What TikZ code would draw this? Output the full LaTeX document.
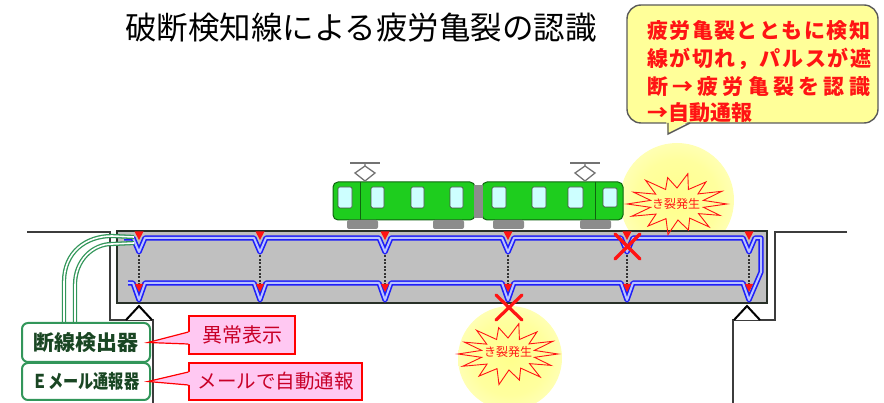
\documentclass[tikz,border=0pt]{standalone}
\usepackage{fontspec}
\setmainfont{Noto Sans CJK JP}
\usetikzlibrary{calc}

\definecolor{wireblue}{RGB}{30,30,250}
\definecolor{wirelight}{RGB}{185,195,255}
\definecolor{girdergray}{RGB}{192,192,192}
\definecolor{girderedge}{RGB}{40,48,40}
\definecolor{groundgray}{RGB}{60,60,60}
\definecolor{cablegreen}{RGB}{50,150,90}
\definecolor{boxtext}{RGB}{25,70,35}
\definecolor{trainbody}{RGB}{30,205,30}
\definecolor{trainedge}{RGB}{15,100,15}
\definecolor{winfill}{RGB}{205,255,255}
\definecolor{bogie}{RGB}{140,140,140}
\definecolor{bubblefill}{RGB}{255,255,153}
\definecolor{bubbleedge}{RGB}{90,90,90}
\definecolor{alertred}{RGB}{255,20,20}
\definecolor{pinkfill}{RGB}{255,200,242}
\definecolor{pinktext}{RGB}{200,0,40}

\pgfdeclareradialshading{glow}{\pgfpoint{0bp}{0bp}}{rgb(0bp)=(1,1,0.55); rgb(18bp)=(1,1,0.62); rgb(50bp)=(1,1,1)}

\tikzset{
  groundline/.style={draw=groundgray, line width=1.8pt},
  bearing/.style={draw=black, fill=white, line width=2pt, line join=miter},
  wire/.style={draw=wireblue, line width=1.6pt, double=wirelight, double distance=2pt, line join=round},
  stiffener/.style={draw=black!80, line width=1.2pt, dash pattern=on 2pt off 1.5pt},
  marker/.style={fill=alertred},
  crackx/.style={draw=alertred, line width=3.2pt, line cap=round},
  burstline/.style={draw=alertred, line width=0.9pt, line join=miter},
  bursttext/.style={text=alertred, font=\fontsize{12}{12}\selectfont},
  cable/.style={draw=cablegreen, line width=1.3pt, double=white, double distance=1.6pt},
  unitbox/.style={draw=cablegreen, fill=white, line width=2pt, rounded corners=6pt, text=boxtext, font=\bfseries\fontsize{21}{21}\selectfont},
  pinkbox/.style={draw=red, fill=pinkfill, line width=1.2pt, text=pinktext},
  body/.style={fill=trainbody, draw=trainedge, line width=1pt, rounded corners=5pt},
  window/.style={fill=winfill, draw=black!70, line width=0.7pt, rounded corners=1.5pt},
  panto/.style={draw=black!55, line width=1.3pt},
  bubbletext/.style={text=alertred, font=\bfseries\fontsize{21}{21}\selectfont, anchor=base west, inner sep=0pt},
  burst/.pic={
    \draw[burstline] (0:50 and 29) -- (12:27 and 16) -- (24:47 and 28) -- (37:27 and 16)
      -- (50:50 and 30) -- (62:27 and 16) -- (75:44 and 27) -- (88:27 and 16)
      -- (100:52 and 31) -- (114:27 and 16) -- (128:47 and 28) -- (141:27 and 16)
      -- (155:50 and 29) -- (168:27 and 16) -- (180:50 and 29) -- (193:27 and 16)
      -- (205:48 and 28) -- (218:27 and 16) -- (232:51 and 30) -- (245:27 and 16)
      -- (258:45 and 27) -- (270:27 and 16) -- (282:52 and 31) -- (295:27 and 16)
      -- (308:47 and 28) -- (321:27 and 16) -- (334:50 and 29) -- (347:27 and 16) -- cycle;
  }
}

\begin{document}
\begin{tikzpicture}[x=1pt,y=-1pt]
\useasboundingbox (0,0) rectangle (884,403);

% glow around the two crack sites
\shade[shading=glow] (677,200) circle [radius=57pt];
\shade[shading=glow] (510,358) circle [radius=52pt];

% ground and abutments
\draw[groundline] (27,232) -- (110,232) -- (110,320) -- (153,320) -- (153,403);
\draw[groundline] (847,232) -- (775,232) -- (775,320) -- (733,320) -- (733,403);

% bearings
\draw[bearing] (126,320) -- (139,306) -- (152,320);
\draw[bearing] (734,320) -- (747,306) -- (760,320);

% girder
\draw[fill=girdergray, draw=girderedge, line width=2.5pt] (117,231) rectangle (767,303);

% stiffeners
\foreach \sx in {139,260,385,508,627,749}
  \draw[stiffener] (\sx,252) -- (\sx,286);

% break detection wire
\draw[wire] (124,238) -- (133,238) -- (139,252) -- (145,238)
  -- (254,238) -- (260,252) -- (266,238)
  -- (379,238) -- (385,252) -- (391,238)
  -- (502,238) -- (508,252) -- (514,238)
  -- (621,238) -- (627,252) -- (633,238)
  -- (743,238) -- (749,252) -- (755,238)
  -- (761,238) -- (761,272) -- (749,300) -- (743,283)
  -- (633,283) -- (627,300) -- (621,283)
  -- (514,283) -- (508,300) -- (502,283)
  -- (391,283) -- (385,300) -- (379,283)
  -- (266,283) -- (260,300) -- (254,283)
  -- (145,283) -- (139,300) -- (133,283) -- (128,283);

% red sensor points
\foreach \sx in {139,260,385,508,627,749} {
  \fill[marker] (\sx-4.5,231.5) -- (\sx+4.5,231.5) -- (\sx,240) -- cycle;
  \fill[marker] (\sx-4,284) -- (\sx+4,284) -- (\sx,292) -- cycle;
}

% broken points
\draw[crackx] (615,234) -- (640,259) (640,234) -- (615,259);
\draw[crackx] (496,295) -- (522,320) (522,295) -- (496,320);

% crack bursts
\pic at (677,204) {burst};
\node[bursttext] (crackA) at (676,204) {き裂発生};
\pic at (508,354) {burst};
\node[bursttext] (crackB) at (508,352) {き裂発生};

% train
\draw[body] (333,182) rectangle (475,220);
\draw[body] (482,182) rectangle (623,220);
\fill[black!45] (474,185) rectangle (483,218);
\draw[trainedge, line width=0.9pt] (360,182) -- (360,220) (595,182) -- (595,220);
\foreach \wx/\ww in {338/14,371/13,411/13,450/13,492/14,532/14,568/15}
  \draw[window] (\wx,187) rectangle (\wx+\ww,208);
\draw[window] (603,188) rectangle (617,207);
\foreach \bx in {347,433,493,580}
  \fill[bogie, rounded corners=2pt] (\bx,220) rectangle (\bx+31,229);
\foreach \px in {365,585} {
  \draw[panto] (\px-15,163) -- (\px+15,163);
  \draw[panto] (\px,163) -- (\px,166) -- (\px-10,173) -- (\px,181);
  \draw[panto] (\px,166) -- (\px+10,173) -- (\px,181);
}

% signal cable from detector into girder
\draw[cable] (64,323) -- (64,282) .. controls (64,252) and (86,236) .. (112,236) -- (134,237);
\draw[cable] (75,323) -- (75,285) .. controls (75,260) and (93,244) .. (112,244) -- (134,243);

% detector units
\node[unitbox, minimum width=128pt, minimum height=39pt] (det) at (86,342.5) {断線検出器};
\node[unitbox, minimum width=128pt, minimum height=37pt] (mail) at (86,381.5)
  {\scalebox{0.8}[1]{\fontsize{19}{19}\selectfont Ｅメール通報器}};

% pink callouts
\node[pinkbox, minimum width=106pt, minimum height=38pt, font=\fontsize{20}{20}\selectfont] (abn) at (242,335) {異常表示};
\node[pinkbox, minimum width=173pt, minimum height=37pt, font=\fontsize{19.5}{19.5}\selectfont] (auto) at (275.5,381.5) {メールで自動通報};
\coordinate (abnTip) at ($(det.east)+(-3,0)$);
\coordinate (autoTip) at ($(mail.east)+(-3,0)$);
\fill[pinkfill] (abn.west |- 0,332) -- (abnTip) -- (abn.west |- 0,344) -- ([xshift=2pt]abn.west |- 0,344) -- ([xshift=2pt]abn.west |- 0,332) -- cycle;
\draw[red, line width=1.2pt, line join=miter] (abn.west |- 0,332) -- (abnTip) -- (abn.west |- 0,344);
\fill[pinkfill] (auto.west |- 0,372) -- (autoTip) -- (auto.west |- 0,385) -- ([xshift=2pt]auto.west |- 0,385) -- ([xshift=2pt]auto.west |- 0,372) -- cycle;
\draw[red, line width=1.2pt, line join=miter] (auto.west |- 0,372) -- (autoTip) -- (auto.west |- 0,385);

% speech bubble
\node[draw=bubbleedge, fill=bubblefill, line width=1.4pt, rounded corners=14pt,
      minimum width=251pt, minimum height=118pt] (bubble) at (752.5,64) {};
\fill[bubblefill] (666,120) -- (691,120) -- (668,134) -- cycle;
\draw[bubbleedge, line width=1.4pt] (668,123) -- (668,134) -- (690,123);
\node[bubbletext] (b1) at (647,39) {\makebox[223pt][s]{疲\hfill 労\hfill 亀\hfill 裂\hfill と\hfill と\hfill も\hfill に\hfill 検\hfill 知}};
\node[bubbletext] (b2) at (647,67) {\makebox[224pt][s]{線\hfill が\hfill 切\hfill れ\hfill ，\hfill パ\hfill ル\hfill ス\hfill が\hfill 遮}};
\node[bubbletext] (b3) at (647,95) {\makebox[223pt][s]{断\hfill →\hfill 疲\hfill 労\hfill 亀\hfill 裂\hfill を\hfill 認\hfill 識}};
\node[bubbletext] (b4) at (647,121) {→自動通報};

% title
\node[anchor=base, inner sep=0pt, font=\fontsize{31.5}{32}\selectfont] (title) at (361,39.5) {破断検知線による疲労亀裂の認識};
\end{tikzpicture}
\end{document}
